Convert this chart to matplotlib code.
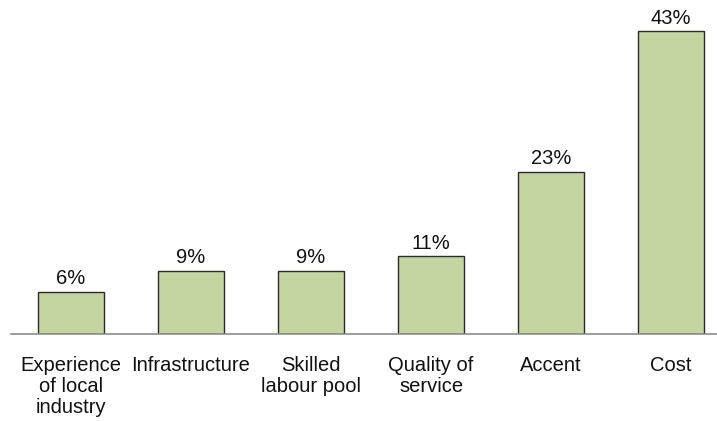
import matplotlib
matplotlib.use("Agg")
import matplotlib.pyplot as plt

categories = ["Experience\nof local\nindustry", "Infrastructure", "Skilled\nlabour pool",
              "Quality of\nservice", "Accent", "Cost"]
values = [6, 9, 9, 11, 23, 43]
value_labels = ["6%", "9%", "9%", "11%", "23%", "43%"]

plt.rcParams["font.family"] = ["Liberation Sans", "DejaVu Sans"]

fig = plt.figure(figsize=(7.17, 4.21), dpi=100)
ax = fig.add_axes([11 / 717, 87 / 421, 1 - 11 / 717, 334 / 421])

x = list(range(len(values)))
ax.bar(x, values, width=0.55, color="#C5D5A1", edgecolor="#2b2b2b", linewidth=1.0, zorder=2)

for xi, v, lab in zip(x, values, value_labels):
    ax.annotate(lab, (xi, v), xytext=(0, 2.5), textcoords="offset points",
                ha="center", va="bottom", fontsize=14.5, color="#111111")

ax.set_xlim(-0.5, (717 - 71) / 120)
ax.set_ylim(0, 47.4)

for s in ["top", "right", "left"]:
    ax.spines[s].set_visible(False)
ax.spines["bottom"].set_color("#8c8c8c")
ax.spines["bottom"].set_linewidth(1.2)
ax.set_yticks([])
ax.set_xticks(x)
ax.set_xticklabels(categories, fontsize=14.5, color="#111111", linespacing=1.12)
ax.tick_params(axis="x", length=0, pad=16)

fig.savefig("out.png", dpi=100)
